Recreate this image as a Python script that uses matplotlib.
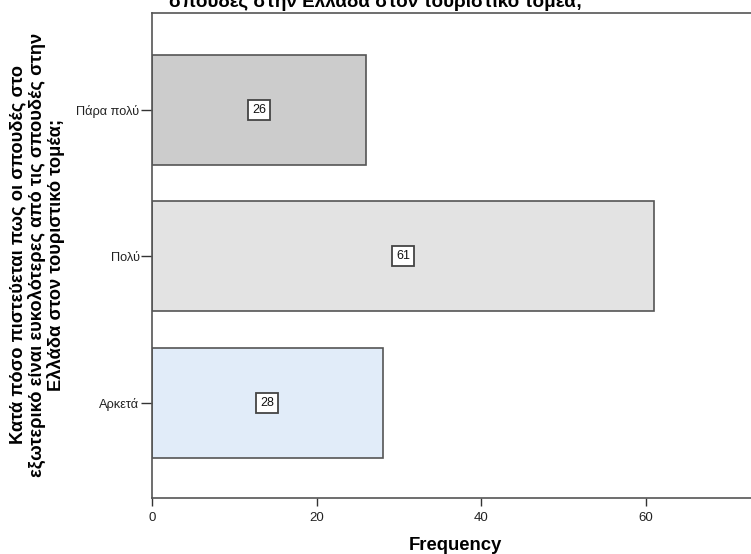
import matplotlib
matplotlib.use("Agg")
import matplotlib.pyplot as plt

categories = ["Αρκετά", "Πολύ", "Πάρα πολύ"]
values = [28, 61, 26]
colors = ["#e1ecf9", "#e3e3e3", "#cccccc"]
xticks = [0, 20, 40, 60]
ylabel = "Κατά πόσο πιστεύεται πως οι σπουδές στο\nεξωτερικό είναι ευκολότερες από τις σπουδές στην\nΕλλάδα στον τουριστικό τομέα;"
title_line = "σπουδές στην Ελλάδα στον τουριστικό τομέα;"

plt.rcParams['font.family'] = ['Liberation Sans', 'DejaVu Sans']

W, H = 751, 554
fig = plt.figure(figsize=(W/100, H/100), dpi=100)
left, right, top, bottom = 152, 791, 13, 498
ax = fig.add_axes([left/W, 1 - bottom/H, (right-left)/W, (bottom-top)/H])

ypos = list(range(len(categories)))
ax.barh(ypos, values, height=0.75, color=colors, edgecolor="#555555", linewidth=1.2)
for y, v in zip(ypos, values):
    ax.text(v/2, y, str(v), ha="center", va="center", fontsize=9, color="#111111",
            bbox=dict(boxstyle="square,pad=0.32", facecolor="white", edgecolor="#444444", linewidth=1.3))

ax.set_xlim(0, (right - left) / 8.233)
ax.set_ylim(-0.65, 2.66)
ax.set_yticks(ypos)
ax.set_yticklabels(categories, fontsize=9.2, color="#222222")
ax.set_xticks(xticks)
ax.set_xticklabels([str(t) for t in xticks], fontsize=9.5, color="#222222")
ax.tick_params(axis="y", direction="out", length=8, width=1, color="#333333", pad=1)
ax.tick_params(axis="x", direction="out", length=6, width=1, color="#333333", pad=4)
for s in ax.spines.values():
    s.set_color("#555555")
    s.set_linewidth(1.2)

fig.text(455/W, 1 - 545/H, "Frequency", ha="center", va="center", fontsize=13.3, fontweight="bold")
fig.text(37/W, 1 - 255/H, ylabel, ha="center", va="center", rotation=90, fontsize=13.2,
         fontweight="bold", linespacing=1.1, multialignment="center")
fig.text(376/W, 1 - 7/H, title_line, ha="center", va="baseline", fontsize=13.6, fontweight="bold")

fig.savefig("out.png", dpi=100)
